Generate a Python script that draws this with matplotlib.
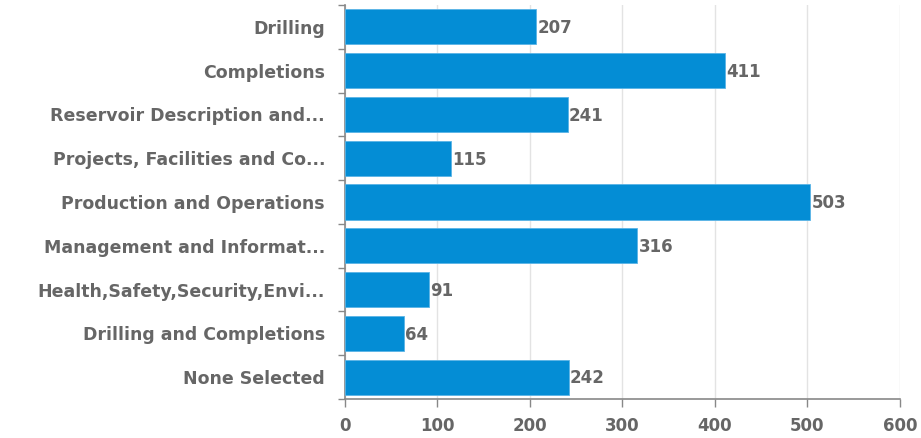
import numpy as np
import matplotlib.pyplot as plt

categories = ['Drilling', 'Completions', 'Reservoir Description and...',
              'Projects, Facilities and Co...', 'Production and Operations',
              'Management and Informat...', 'Health,Safety,Security,Envi...',
              'Drilling and Completions', 'None Selected']
values = [207, 411, 241, 115, 503, 316, 91, 64, 242]
xticks = [0, 100, 200, 300, 400, 500, 600]

bar_color = '#048DD5'
text_color = '#666666'
axis_color = '#888888'

plt.rcParams['font.family'] = ['DejaVu Sans']

fig = plt.figure(figsize=(9.21, 4.38), dpi=100)
ax = fig.add_axes([344.5 / 921, 1 - 399 / 438, (900 - 344.5) / 921, (399 - 5) / 438])

y = np.arange(len(categories))
ax.barh(y, values, height=0.8, color=bar_color, edgecolor='#5ab4e6', linewidth=0.6, zorder=3)

for yi, v in zip(y, values):
    ax.text(v + 1.5, yi + 0.03, str(v), va='center', ha='left', fontsize=12,
            fontweight='bold', color=text_color, zorder=4)

ax.set_xlim(0, 600)
ax.set_ylim(len(categories) - 0.5, -0.5)
ax.set_xticks(xticks)
ax.set_xticklabels([str(t) for t in xticks], fontsize=12, fontweight='bold', color=text_color)

# category labels at centers, tick marks at boundaries
ax.set_yticks(y)
ax.set_yticklabels(categories, fontsize=12.5, fontweight='bold', color=text_color)
ax.tick_params(axis='y', which='major', length=0, pad=14)
ax.set_yticks(np.arange(-0.5, len(categories), 1), minor=True)
ax.tick_params(axis='y', which='minor', length=5, color=axis_color, width=1)
ax.tick_params(axis='x', length=6, color=axis_color, width=1, pad=7)

ax.grid(axis='x', color='#e3e3e3', linewidth=1, zorder=0)
for s in ['top', 'right']:
    ax.spines[s].set_visible(False)
for s in ['left', 'bottom']:
    ax.spines[s].set_color(axis_color)
    ax.spines[s].set_linewidth(1.2)

fig.savefig('out.png', dpi=100)
